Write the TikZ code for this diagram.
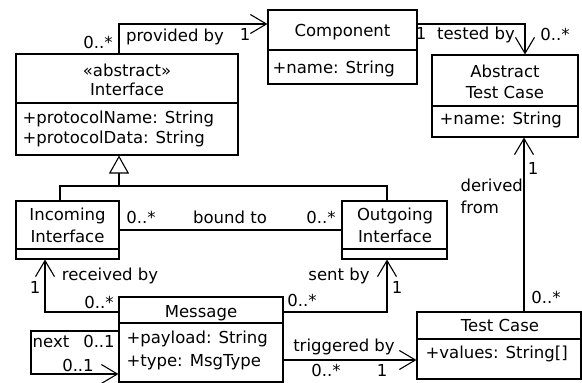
\documentclass[tikz,border=0pt]{standalone}
\usepackage{fontspec}
\setmainfont{DejaVu Sans}
\usetikzlibrary{arrows.meta}
\begin{document}
\begin{tikzpicture}[x=1pt,y=-1pt,
  line width=1.1pt,
  box/.style={draw, rectangle, inner sep=0pt},
  lbl/.style={inner sep=0pt, text height=12pt, text depth=0pt,
              font=\fontsize{16.5}{19}\selectfont},
  nav/.style={-{Straight Barb[length=16pt,width=19pt,line width=1.1pt]}},
  gen/.style={-{Triangle[open,length=18pt,width=20pt,line width=1.1pt,fill=white]}},
]
\useasboundingbox (0,0) rectangle (582,383);

% ---------- class boxes ----------
\node[box, minimum width=149pt, minimum height=74pt]  (comp)  at (342.5,47)  {};
\node[box, minimum width=222pt, minimum height=101pt] (iface) at (127,104.5) {};
\node[box, minimum width=146pt, minimum height=82pt]  (atc)   at (505,96)    {};
\node[box, minimum width=103pt, minimum height=58pt]  (inc)   at (67.5,230)  {};
\node[box, minimum width=105pt, minimum height=58pt]  (out)   at (394.5,230) {};
\node[box, minimum width=164pt, minimum height=85pt]  (msg)   at (201,339.5) {};
\node[box, minimum width=164pt, minimum height=67pt]  (tc)    at (499,345.5) {};

% compartment dividers
\coordinate (dcomp) at (0,50);
\coordinate (diface) at (0,103);
\coordinate (datc) at (0,106);
\coordinate (dint) at (0,249);
\coordinate (dmsg) at (0,323);
\coordinate (dtc) at (0,339);
\draw (comp.west |- dcomp) -- (comp.east |- dcomp);
\draw (iface.west |- diface) -- (iface.east |- diface);
\draw (atc.west |- datc) -- (atc.east |- datc);
\draw (inc.west |- dint) -- (inc.east |- dint);
\draw (out.west |- dint) -- (out.east |- dint);
\draw (msg.west |- dmsg) -- (msg.east |- dmsg);
\draw (tc.west |- dtc) -- (tc.east |- dtc);

% ---------- class texts ----------
\node[lbl] (compname) at (342.5,30) {Component};
\node[lbl, anchor=west] (compattr) at (272,67) {+name: String};

\node[lbl] (ifacest) at (127,70) {«abstract»};
\node[lbl] (ifacename) at (127,89) {Interface};
\node[lbl, anchor=west] (ifaceattra) at (22,117) {+protocolName: String};
\node[lbl, anchor=west] (ifaceattrb) at (22,137) {+protocolData: String};

\node[lbl] (atcname1) at (505,71) {Abstract};
\node[lbl] (atcname2) at (505,92) {Test Case};
\node[lbl, anchor=west] (atcattr) at (439,118) {+name: String};

\node[lbl] (incname1) at (67.5,214) {Incoming};
\node[lbl] (incname2) at (67.5,236) {Interface};

\node[lbl] (outname1) at (395,214) {Outgoing};
\node[lbl] (outname2) at (395,236) {Interface};

\node[lbl] (msgname) at (201,311) {Message};
\node[lbl, anchor=west] (msgattra) at (126,337) {+payload: String};
\node[lbl, anchor=west] (msgattrb) at (126,360) {+type: MsgType};

\node[lbl] (tcname) at (500,325) {Test Case};
\node[lbl, anchor=west] (tcattr) at (425,352) {+values: String[]};

% ---------- generalization ----------
\coordinate (gj) at (119,186);
\coordinate (gl) at (60,186);
\coordinate (gr) at (387,186);
\draw (inc.north -| gl) -- (gl) -- (gr) -- (out.north -| gr);
\draw[gen] (gj) -- (iface.south -| gj);

% ---------- associations ----------
\coordinate (pb) at (119,24);
\draw[nav] (iface.north -| pb) -- (pb) -- (comp.west |- pb);

\coordinate (tb) at (525,24);
\draw[nav] (comp.east |- tb) -- (tb) -- (atc.north -| tb);

\coordinate (df) at (524,0);
\draw[nav] (tc.north -| df) -- (atc.south -| df);

\draw (inc.east) -- (inc.east -| out.west);

\coordinate (rb) at (45,312);
\draw[nav] (msg.west |- rb) -- (rb) -- (inc.south -| rb);

\coordinate (sb) at (387,312);
\draw[nav] (msg.east |- sb) -- (sb) -- (out.south -| sb);

\coordinate (nx1) at (31,331);
\coordinate (nx2) at (31,374);
\draw[nav] (msg.west |- nx1) -- (nx1) -- (nx2) -- (msg.west |- nx2);

\coordinate (tg) at (0,360);
\draw[nav] (msg.east |- tg) -- (tc.west |- tg);

% ---------- association labels ----------
\node[lbl] (m1) at (98,42) {0..*};
\node[lbl] (l1) at (175,35) {provided by};
\node[lbl] (m2) at (245,34) {1};

\node[lbl] (m3) at (421,33) {1};
\node[lbl] (l2) at (476,33) {tested by};
\node[lbl] (m4) at (555,34) {0..*};

\node[lbl, anchor=west] (l3a) at (460,185) {derived};
\node[lbl, anchor=west] (l3b) at (460,207) {from};
\node[lbl] (m5) at (533,168) {1};
\node[lbl] (m6) at (546,297) {0..*};

\node[lbl] (m7) at (141,217) {0..*};
\node[lbl] (l4) at (230,217) {bound to};
\node[lbl] (m8) at (321,217) {0..*};

\node[lbl] (l5) at (110,274) {received by};
\node[lbl] (m9) at (35,287) {1};
\node[lbl] (m10) at (99,302) {0..*};

\node[lbl] (l6) at (339,274) {sent by};
\node[lbl] (m11) at (397,287) {1};
\node[lbl] (m12) at (302,300) {0..*};

\node[lbl] (l7) at (51,341) {next};
\node[lbl] (m13) at (99,341) {0..1};
\node[lbl] (m14) at (78,365) {0..1};

\node[lbl] (l8) at (344,345) {triggered by};
\node[lbl] (m15) at (326,370) {0..*};
\node[lbl] (m16) at (382,370) {1};
\end{tikzpicture}
\end{document}
